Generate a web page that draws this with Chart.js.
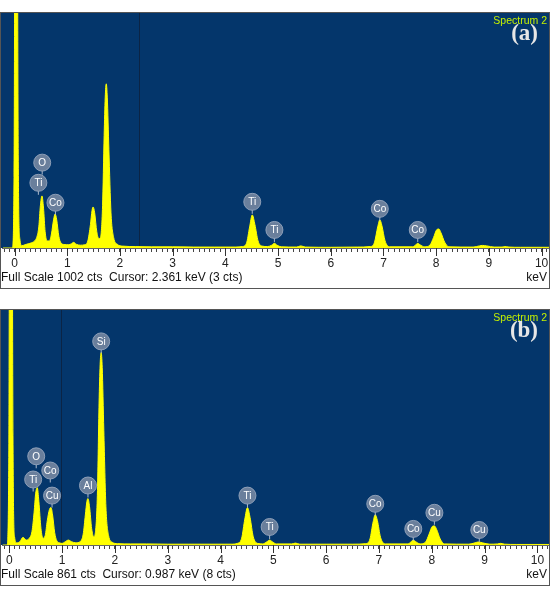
<!DOCTYPE html>
<html>
<head>
<meta charset="utf-8">
<script src="https://cdn.jsdelivr.net/npm/chart.js@4"></script>
<style>
  html, body { margin: 0; padding: 0; background: #fff; }
  body { width: 555px; height: 589px; position: relative; overflow: hidden; }
  canvas { position: absolute; left: 0; }
  #specA { top: 0; }
  #specB { top: 297px; }
</style>
</head>
<body>
<canvas id="specA" width="555" height="292"></canvas>
<canvas id="specB" width="555" height="292"></canvas>
<script>
// Spectrum (a) - energy (keV) and counts
const energyA = [-0.22, -0.04, -0.01, 0.01, 0.03, 0.05, 0.07, 0.1, 0.14, 0.2, 0.26, 0.32, 0.38, 0.42, 0.46, 0.49,
  0.52, 0.55, 0.58, 0.62, 0.66, 0.7, 0.74, 0.77, 0.8, 0.84, 0.88, 0.94, 1.02, 1.08, 1.12, 1.17, 1.25, 1.33,
  1.39, 1.44, 1.47, 1.49, 1.52, 1.56, 1.6, 1.63, 1.67, 1.7, 1.72, 1.74, 1.76, 1.79, 1.83, 1.88, 1.95, 2.05,
  2.3, 2.6, 3.0, 3.4, 3.8, 4.2, 4.32, 4.4, 4.46, 4.51, 4.56, 4.62, 4.7, 4.8, 4.88, 4.93, 4.98, 5.06, 5.35,
  5.43, 5.52, 6.0, 6.5, 6.75, 6.83, 6.89, 6.93, 6.97, 7.03, 7.12, 7.55, 7.62, 7.65, 7.69, 7.78, 7.88, 7.95,
  8.01, 8.05, 8.09, 8.16, 8.24, 8.7, 8.82, 8.88, 8.96, 9.1, 9.25, 9.3, 9.38, 9.6, 10.14];
const countsA = [0, 0, 300, 1800, 3000, 1800, 400, 40, 10, 14, 18, 22, 30, 45, 90, 180,
  222, 170, 70, 30, 30, 60, 120, 145, 120, 50, 22, 15, 14, 18, 24, 16, 12, 14,
  30, 100, 160, 175, 150, 70, 40, 45, 180, 480, 640, 700, 640, 420, 150, 45, 16, 8,
  6, 5, 5, 4, 4, 4, 6, 20, 90, 141, 100, 30, 8, 6, 12, 20, 12, 5, 4,
  9, 4, 3, 4, 6, 25, 90, 120, 95, 30, 5, 5, 15, 20, 14, 5, 12, 45,
  78, 81, 65, 25, 5, 4, 9, 11, 9, 4, 4, 6, 4, 3, 3];

// Spectrum (b)
const energyB = [-0.13, -0.04, -0.01, 0.01, 0.03, 0.05, 0.07, 0.1, 0.14, 0.2, 0.26, 0.32, 0.38, 0.43, 0.47, 0.5,
  0.53, 0.56, 0.6, 0.64, 0.68, 0.72, 0.76, 0.79, 0.82, 0.86, 0.9, 0.95, 1.0, 1.06, 1.12, 1.18, 1.26, 1.34,
  1.4, 1.44, 1.47, 1.49, 1.52, 1.56, 1.6, 1.63, 1.67, 1.7, 1.72, 1.74, 1.76, 1.79, 1.83, 1.88, 1.95, 2.05,
  2.3, 2.6, 3.0, 3.4, 3.8, 4.2, 4.32, 4.4, 4.46, 4.51, 4.56, 4.62, 4.7, 4.8, 4.88, 4.93, 4.98, 5.06, 5.35,
  5.42, 5.5, 6.0, 6.5, 6.75, 6.83, 6.89, 6.93, 6.97, 7.03, 7.12, 7.55, 7.62, 7.65, 7.69, 7.78, 7.88, 7.95,
  8.01, 8.05, 8.09, 8.16, 8.24, 8.7, 8.82, 8.88, 8.96, 9.1, 9.25, 9.3, 9.38, 9.6, 10.22];
const countsB = [0, 0, 300, 1800, 3000, 1800, 400, 30, 8, 12, 28, 18, 25, 50, 120, 190,
  210, 160, 60, 25, 35, 90, 130, 137, 110, 45, 15, 8, 6, 12, 18, 12, 8, 12,
  40, 110, 160, 170, 140, 60, 30, 45, 200, 520, 660, 705, 650, 420, 140, 35, 10, 5,
  4, 4, 3, 3, 3, 3, 6, 25, 95, 137, 100, 30, 6, 4, 12, 18, 12, 4, 4,
  7, 3, 3, 3, 5, 22, 85, 111, 90, 28, 4, 4, 14, 18, 13, 4, 10, 40,
  68, 70, 58, 22, 4, 3, 8, 11, 8, 3, 4, 6, 3, 2, 2];

// peak labels: element, energy (keV), counts at badge centre
const labelsA = ['O', 'Ti', 'Co', 'Ti', 'Ti', 'Co', 'Co'];
const labelKeVA = [0.525, 0.452, 0.776, 4.51, 4.93, 6.93, 7.65];
const labelCtsA = [364, 278, 193, 197, 77, 167, 77];

const labelsB = ['Si', 'O', 'Co', 'Ti', 'Cu', 'Al', 'Ti', 'Ti', 'Co', 'Co', 'Cu', 'Cu'];
const labelKeVB = [1.74, 0.51, 0.776, 0.452, 0.81, 1.49, 4.51, 4.93, 6.93, 7.65, 8.05, 8.9];
const labelCtsB = [746, 325, 273, 240, 181, 218, 181, 66, 151, 59, 118, 55];

const BG = '#04366b';
const YELLOW = '#ffff00';
const FONT = '"Liberation Sans", Arial, sans-serif';

const spectrumPlugin = {
    id: 'spectrum',
    beforeDraw(chart) {
        const { ctx, chartArea: a } = chart;
        ctx.save();
        ctx.fillStyle = BG;
        ctx.fillRect(0, a.top, a.right, a.bottom - a.top);
        ctx.restore();
    },
    beforeDatasetsDraw(chart) {
        const o = chart.options.plugins.spectrum;
        const { ctx, chartArea: a, scales: { x } } = chart;
        const px = Math.round(x.getPixelForValue(o.cursor)) + 0.5;
        ctx.save();
        ctx.strokeStyle = '#0b2445';
        ctx.lineWidth = 1;
        ctx.beginPath();
        ctx.moveTo(px, a.top);
        ctx.lineTo(px, a.bottom);
        ctx.stroke();
        ctx.restore();
    },
    afterDatasetsDraw(chart) {
        const o = chart.options.plugins.spectrum;
        const { ctx, scales: { x, y } } = chart;
        ctx.save();
        o.labels.forEach((el, i) => {
            const cx = x.getPixelForValue(o.keV[i]);
            const cy = y.getPixelForValue(o.cts[i]);
            ctx.strokeStyle = 'rgba(190,200,215,0.9)';
            ctx.lineWidth = 1;
            ctx.beginPath();
            ctx.moveTo(cx, cy + 8);
            ctx.lineTo(cx, cy + 12);
            ctx.stroke();
            ctx.beginPath();
            ctx.arc(cx, cy, 8.5, 0, Math.PI * 2);
            ctx.fillStyle = 'rgba(118,135,162,0.9)';
            ctx.fill();
            ctx.strokeStyle = 'rgba(150,165,188,0.9)';
            ctx.stroke();
            ctx.fillStyle = '#ffffff';
            ctx.font = '10px ' + FONT;
            ctx.textAlign = 'center';
            ctx.textBaseline = 'middle';
            ctx.fillText(el, cx, cy + 0.5);
        });
        ctx.restore();
    },
    afterDraw(chart) {
        const o = chart.options.plugins.spectrum;
        const { ctx, chartArea: a, scales: { x } } = chart;
        ctx.save();
        // integer ticks are longer
        ctx.strokeStyle = '#333';
        ctx.lineWidth = 1;
        for (let k = 0; k <= 10; k++) {
            const px = Math.round(x.getPixelForValue(k)) + 0.5;
            ctx.beginPath();
            ctx.moveTo(px, a.bottom);
            ctx.lineTo(px, a.bottom + 8);
            ctx.stroke();
        }
        // frame
        ctx.strokeStyle = '#555';
        ctx.strokeRect(0.5, a.top - 0.5, a.right, 289 - a.top);
        // titles
        ctx.textBaseline = 'middle';
        ctx.textAlign = 'right';
        ctx.fillStyle = '#c4f000';
        ctx.font = '10.5px ' + FONT;
        ctx.fillText('Spectrum 2', a.right - 2, a.top + 8);
        ctx.fillStyle = '#e6e6e6';
        ctx.font = 'bold 23px "Liberation Serif", "Times New Roman", serif';
        ctx.textBaseline = 'alphabetic';
        ctx.fillText(o.tag, a.right - 11, a.top + 27);
        // bottom status line
        ctx.fillStyle = '#111';
        ctx.font = '12px ' + FONT;
        ctx.textBaseline = 'middle';
        ctx.textAlign = 'left';
        ctx.fillText(o.status, 1, 278);
        ctx.textAlign = 'right';
        ctx.fillText('keV', a.right - 2, 278);
        ctx.restore();
    }
};

function renderSpectrum(id, energy, counts, xmin, xmax, fullScale, cursor, cursorCts, tag, labels, keV, cts) {
    const canvas = document.getElementById(id);
    return new Chart(canvas, {
        type: 'line',
        data: {
            datasets: [{
                data: energy.map((e, i) => ({ x: e, y: counts[i] })),
                borderColor: YELLOW,
                backgroundColor: YELLOW,
                borderWidth: 1,
                pointRadius: 0,
                fill: 'origin',
                cubicInterpolationMode: 'monotone'
            }]
        },
        options: {
            responsive: false,
            animation: false,
            devicePixelRatio: 1,
            layout: { padding: { left: 1, right: 6, top: 13, bottom: 20 } },
            scales: {
                x: {
                    type: 'linear',
                    min: xmin,
                    max: xmax,
                    afterFit: axis => { axis.height = 24; },
                    border: { display: true, color: '#666' },
                    grid: { drawOnChartArea: false, tickLength: 4, tickColor: '#444' },
                    ticks: {
                        stepSize: 0.1,
                        includeBounds: false,
                        autoSkip: false,
                        maxRotation: 0,
                        padding: 4,
                        color: '#222',
                        font: { family: FONT, size: 12 },
                        callback: v => Math.abs(v - Math.round(v)) < 1e-6 ? String(Math.round(v)) : ''
                    }
                },
                y: { display: false, min: 0, max: fullScale }
            },
            plugins: {
                legend: { display: false },
                tooltip: { enabled: false },
                spectrum: {
                    cursor, tag, labels, keV, cts,
                    status: `Full Scale ${fullScale} cts  Cursor: ${cursor.toFixed(3)} keV (${cursorCts} cts)`
                }
            }
        },
        plugins: [spectrumPlugin]
    });
}

renderSpectrum('specA', energyA, countsA, -0.22, 10.14, 1002, 2.361, 3, '(a)', labelsA, labelKeVA, labelCtsA);
renderSpectrum('specB', energyB, countsB, -0.13, 10.22, 861, 0.987, 8, '(b)', labelsB, labelKeVB, labelCtsB);
</script>
</body>
</html>
